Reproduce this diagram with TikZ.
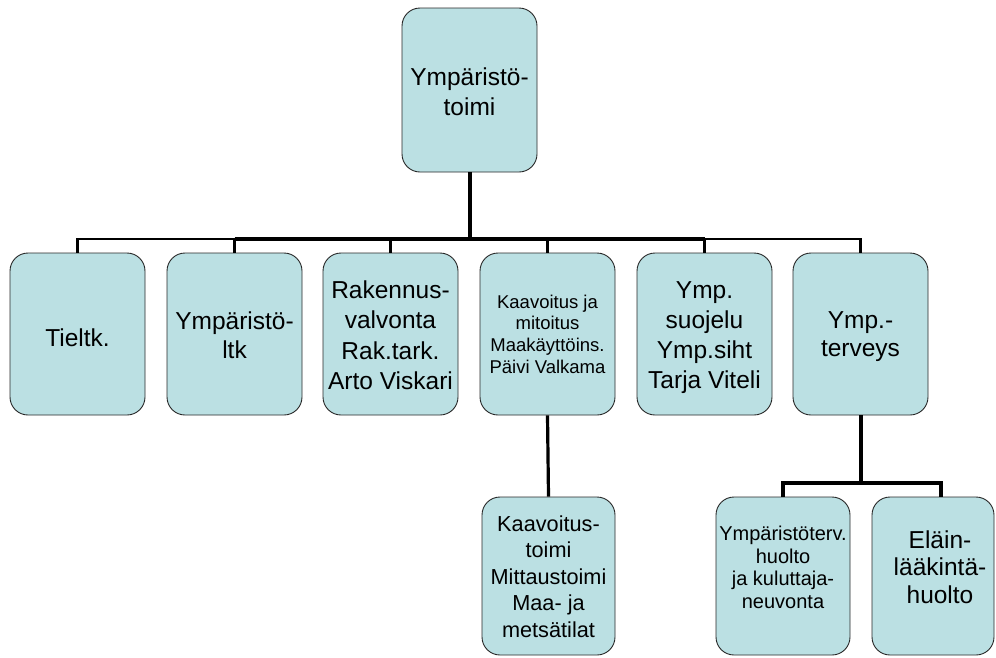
\documentclass[tikz,border=0pt]{standalone}
\usepackage{fontspec}
\setmainfont{Liberation Sans}
\newcommand{\bt}[4]{\raisebox{#1}[\height][\depth]{\fontsize{#2}{#3}\selectfont\begin{tabular}{@{}c@{}}#4\end{tabular}}}
\definecolor{boxfill}{RGB}{187,224,227}
\definecolor{boxline}{RGB}{40,40,40}
\tikzset{
  orgbox/.style={draw=boxline, fill=boxfill, line width=0.9pt, rounded corners=18pt,
    inner sep=0pt, minimum width=135pt, minimum height=162pt, text=black},
  thin conn/.style={line width=2.5pt, draw=black},
  mid conn/.style={line width=3.2pt, draw=black},
  thick conn/.style={line width=4pt, draw=black},
}
\begin{document}
\begin{tikzpicture}[x=1pt,y=-1pt]
\useasboundingbox (0,0) rectangle (996,657);
% top
\node[orgbox, minimum height=164pt] (top) at (469.5,90) {\bt{-4pt}{24.5}{30}{Ympäristö-\\toimi}};
% row 2
\node[orgbox] (b1) at (77.5,334) {\bt{-6pt}{24.5}{30}{Tieltk.}};
\node[orgbox] (b2) at (234.5,334) {\bt{-4pt}{24.5}{29.5}{Ympäristö-\\ltk}};
\node[orgbox] (b3) at (390.5,334) {\bt{-4pt}{24.5}{30.5}{Rakennus-\\valvonta\\Rak.tark.\\Arto Viskari}};
\node[orgbox] (b4) at (547.5,334) {\bt{-2.4pt}{18.5}{21.7}{Kaavoitus ja\\mitoitus\\Maakäyttöins.\\Päivi Valkama}};
\node[orgbox] (b5) at (704.5,334) {\bt{-3pt}{24.5}{30}{Ymp.\\suojelu\\Ymp.siht\\Tarja Viteli}};
\node[orgbox] (b6) at (860.5,334) {\bt{-3pt}{24.5}{28.5}{Ymp.-\\terveys}};
% bottom
\node[orgbox, minimum width=133pt, minimum height=158pt] (c1) at (548.5,576) {\bt{-2.7pt}{21.7}{26.5}{Kaavoitus-\\toimi\\Mittaustoimi\\Maa- ja\\metsätilat}};
\node[orgbox, minimum width=134pt, minimum height=158pt] (c2) at (783,576) {\bt{6pt}{20}{22.5}{Ympäristöterv.\\huolto\\ja kuluttaja-\\neuvonta}};
\node[orgbox, minimum width=122pt, minimum height=158pt] (c3) at (933,576) {\hspace*{14pt}\bt{6pt}{24.5}{27.5}{Eläin-\\lääkintä-\\huolto}};
% connectors
\coordinate (bar) at (469.5,239);
\coordinate (branch) at (860.5,483);
\draw[thin conn] (top.south) -- (top.south |- bar) -| (b1.north);
\draw[thin conn] (top.south) -- (top.south |- bar) -| (b2.north);
\draw[thin conn] (top.south) -- (top.south |- bar) -| (b3.north);
\draw[thin conn] (top.south) -- (top.south |- bar) -| (b4.north);
\draw[thin conn] (top.south) -- (top.south |- bar) -| (b5.north);
\draw[thin conn] (top.south) -- (top.south |- bar) -| (b6.north);
\draw[thick conn] (top.south) -- (bar);
\draw[thick conn] (b2.north |- bar) -- (b5.north |- bar);
\draw[mid conn] (b4.south) -- (c1.north);
\draw[thick conn] (b6.south) -- (branch);
\draw[mid conn] (branch) -| (c2.north);
\draw[mid conn] (branch) -| ([xshift=8pt]c3.north);
\end{tikzpicture}
\end{document}
